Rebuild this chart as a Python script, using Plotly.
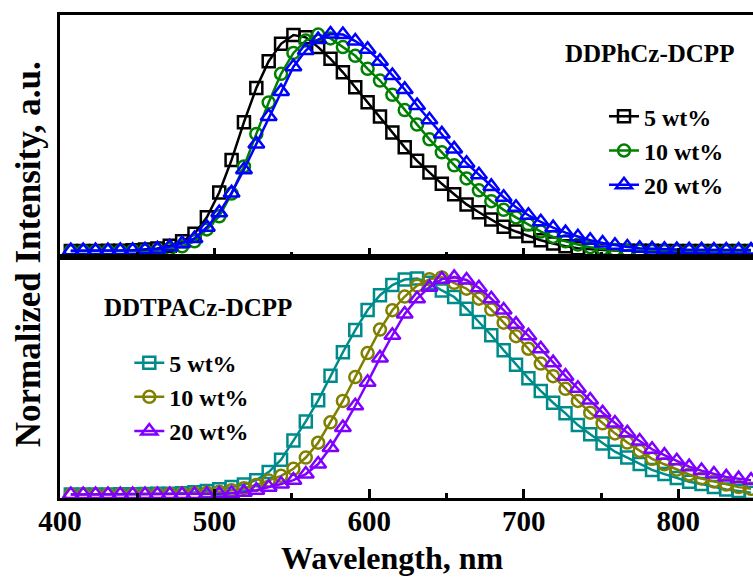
import plotly.graph_objects as go
from plotly.subplots import make_subplots

wavelength = [407, 415, 423, 431, 439, 447, 455, 463, 471, 479, 487, 495, 503, 511,
              519, 527, 535, 543, 551, 559, 567, 575, 583, 591, 599, 607, 615, 623,
              631, 639, 647, 655, 663, 671, 679, 687, 695, 703, 711, 719, 727, 735,
              743, 751, 759, 767, 775, 783, 791, 799, 807, 815, 823, 831, 839, 847]

# DDPhCz-DCPP
phcz_5 = [0.000, 0.000, 0.000, 0.001, 0.002, 0.004, 0.007, 0.012, 0.025, 0.045, 0.080, 0.156, 0.270, 0.420,
          0.594, 0.752, 0.875, 0.955, 0.996, 0.985, 0.940, 0.886, 0.824, 0.755, 0.686, 0.620, 0.547, 0.478,
          0.416, 0.362, 0.310, 0.262, 0.215, 0.179, 0.146, 0.112, 0.090, 0.070, 0.050, 0.035, 0.022, 0.013,
          0.008, 0.005, 0.003, 0.002, 0.001, 0.001, 0.000, 0.000, 0.000, 0.000, 0.000, 0.000, 0.000, 0.000]
phcz_10 = [0.000, 0.000, 0.000, 0.000, 0.000, 0.001, 0.002, 0.004, 0.010, 0.022, 0.045, 0.100, 0.160, 0.265,
           0.390, 0.540, 0.685, 0.817, 0.913, 0.970, 0.998, 0.980, 0.940, 0.900, 0.840, 0.786, 0.720, 0.650,
           0.583, 0.515, 0.455, 0.395, 0.335, 0.280, 0.230, 0.190, 0.155, 0.122, 0.090, 0.065, 0.045, 0.030,
           0.018, 0.010, 0.005, 0.002, 0.001, 0.000, 0.000, 0.000, 0.000, 0.000, 0.000, 0.000, 0.000, 0.000]
phcz_20 = [0.002, 0.002, 0.002, 0.002, 0.003, 0.004, 0.006, 0.010, 0.020, 0.035, 0.058, 0.110, 0.177, 0.268,
           0.375, 0.494, 0.620, 0.736, 0.850, 0.924, 0.975, 1.000, 0.998, 0.968, 0.930, 0.875, 0.809, 0.745,
           0.671, 0.605, 0.540, 0.471, 0.405, 0.352, 0.298, 0.248, 0.202, 0.165, 0.135, 0.108, 0.085, 0.066,
           0.050, 0.037, 0.027, 0.019, 0.013, 0.010, 0.008, 0.007, 0.006, 0.006, 0.005, 0.005, 0.005, 0.005]

# DDTPACz-DCPP
tpacz_5 = [0.002, 0.002, 0.002, 0.002, 0.003, 0.003, 0.004, 0.005, 0.006, 0.008, 0.012, 0.018, 0.026, 0.036,
           0.048, 0.068, 0.105, 0.162, 0.250, 0.338, 0.435, 0.548, 0.656, 0.758, 0.850, 0.918, 0.965, 0.990,
           0.995, 0.975, 0.940, 0.910, 0.856, 0.795, 0.734, 0.665, 0.598, 0.536, 0.478, 0.424, 0.375, 0.321,
           0.279, 0.237, 0.199, 0.172, 0.142, 0.115, 0.096, 0.078, 0.061, 0.050, 0.036, 0.025, 0.018, 0.010]
tpacz_10 = [0.002, 0.002, 0.002, 0.002, 0.002, 0.002, 0.003, 0.003, 0.004, 0.005, 0.007, 0.010, 0.015, 0.022,
            0.031, 0.046, 0.066, 0.088, 0.120, 0.172, 0.240, 0.334, 0.432, 0.542, 0.652, 0.760, 0.849, 0.912,
            0.962, 0.992, 1.000, 0.975, 0.948, 0.902, 0.852, 0.792, 0.730, 0.672, 0.604, 0.546, 0.488, 0.432,
            0.378, 0.329, 0.283, 0.241, 0.202, 0.166, 0.141, 0.116, 0.094, 0.076, 0.062, 0.048, 0.036, 0.028]
tpacz_20 = [0.002, 0.002, 0.002, 0.002, 0.002, 0.002, 0.002, 0.002, 0.002, 0.002, 0.002, 0.003, 0.005, 0.008,
            0.013, 0.022, 0.035, 0.050, 0.068, 0.096, 0.142, 0.218, 0.310, 0.410, 0.518, 0.630, 0.734, 0.832,
            0.902, 0.955, 0.992, 1.000, 0.988, 0.952, 0.902, 0.850, 0.785, 0.732, 0.672, 0.608, 0.546, 0.490,
            0.436, 0.378, 0.331, 0.286, 0.248, 0.210, 0.183, 0.157, 0.130, 0.112, 0.096, 0.083, 0.075, 0.068]

labels = ["5 wt%", "10 wt%", "20 wt%"]
top_colors = ["#000000", "#008000", "#0000FF"]
bot_colors = ["#008B8B", "#808000", "#8000FF"]
symbols = ["square-open", "circle-open", "triangle-up-open"]
sizes = [12, 12, 14]
tick_vals = [400, 500, 600, 700, 800]
tick_text = ["400", "500", "600", "700", "800"]

SERIF = "Liberation Serif"

fig = make_subplots(rows=2, cols=1, shared_xaxes=True, vertical_spacing=0)

for ys, lab, col, sym, sz in zip([phcz_5, phcz_10, phcz_20], labels, top_colors, symbols, sizes):
    fig.add_trace(go.Scatter(x=wavelength, y=ys, name="<b>" + lab + "</b>", mode="lines+markers",
                             line=dict(color=col, width=2.5),
                             marker=dict(symbol=sym, size=sz, color=col, line=dict(width=2.5, color=col)),
                             legend="legend"), row=1, col=1)

for ys, lab, col, sym, sz in zip([tpacz_5, tpacz_10, tpacz_20], labels, bot_colors, symbols, sizes):
    fig.add_trace(go.Scatter(x=wavelength, y=ys, name="<b>" + lab + "</b>", mode="lines+markers",
                             line=dict(color=col, width=2.5),
                             marker=dict(symbol=sym, size=sz, color=col, line=dict(width=2.5, color=col)),
                             legend="legend2"), row=2, col=1)

xcommon = dict(range=[400, 848.3], showline=True, linewidth=3, linecolor="black", mirror=True,
               ticks="inside", ticklen=9, tickwidth=2.5, tickcolor="black",
               tickvals=tick_vals, ticktext=tick_text, showgrid=False, zeroline=False,
               minor=dict(ticks="inside", ticklen=5, tickwidth=2.5, tickcolor="black",
                          tickvals=[450, 550, 650, 750, 850]))
fig.update_xaxes(**xcommon)
fig.update_xaxes(showticklabels=False, row=1, col=1)
fig.update_xaxes(showticklabels=True, row=2, col=1, ticklabelstandoff=-5,
                 tickfont=dict(family=SERIF, size=29, color="black", weight="bold"))

fig.update_yaxes(showline=True, linewidth=3, linecolor="black", mirror=False,
                 ticks="", showticklabels=False, showgrid=False, zeroline=False)
fig.update_yaxes(range=[-0.025, 1.088], domain=[0.5, 1.0], row=1, col=1)
fig.update_yaxes(range=[-0.014, 1.096], domain=[0.0, 0.5], row=2, col=1)

legend_font = dict(family=SERIF, size=24, color="black")
fig.update_layout(
    width=753, height=579,
    margin=dict(l=60, r=0, t=15, b=81),
    paper_bgcolor="white", plot_bgcolor="white",
    showlegend=True,
    legend=dict(x=0.785, y=0.836, xanchor="left", yanchor="top", font=legend_font,
                bgcolor="rgba(0,0,0,0)", tracegroupgap=0, itemwidth=30),
    legend2=dict(x=0.1, y=0.326, xanchor="left", yanchor="top", font=legend_font,
                 bgcolor="rgba(0,0,0,0)", tracegroupgap=0, itemwidth=30),
    annotations=[
        dict(text="<b>DDPhCz-DCPP</b>", x=0.851, y=0.921, xref="paper", yref="paper",
             xanchor="center", yanchor="middle",
             showarrow=False, font=dict(family=SERIF, size=25, color="black")),
        dict(text="<b>DDTPACz-DCPP</b>", x=0.199, y=0.395, xref="paper", yref="paper",
             xanchor="center", yanchor="middle",
             showarrow=False, font=dict(family=SERIF, size=25, color="black")),
        dict(text="<b>Wavelength, nm</b>", x=0.48, y=-0.124, xref="paper", yref="paper",
             xanchor="center", yanchor="middle",
             showarrow=False, font=dict(family=SERIF, size=32, color="black")),
        dict(text="<b>Normalized Intensity, a.u.</b>", x=-0.046, y=0.505, xref="paper", yref="paper",
             xanchor="center", yanchor="middle", textangle=-90, showarrow=False,
             font=dict(family=SERIF, size=35, color="black")),
    ],
)

fig.write_html("out.html")
